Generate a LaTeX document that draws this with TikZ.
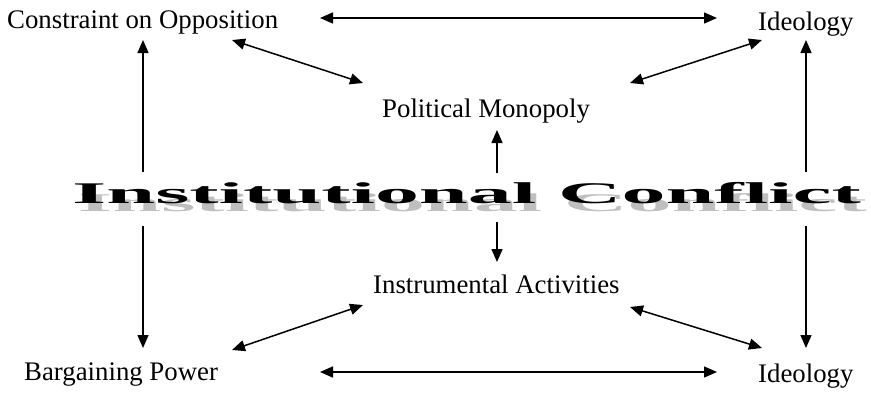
\documentclass[tikz,border=0pt]{standalone}
\usepackage{fontspec}
\setmainfont{Liberation Serif}
\usetikzlibrary{arrows.meta}
\tikzset{
  lbl/.style={anchor=base west, inner sep=0pt, font=\fontsize{26.8}{30}\selectfont},
  conn/.style={line width=1.5pt, -{Triangle[length=13pt,width=11pt]}},
  biconn/.style={line width=1.5pt, {Triangle[length=13pt,width=11pt]}-{Triangle[length=13pt,width=11pt]}},
  titletxt/.style={anchor=base west, inner sep=0pt}
}
\newcommand{\titlefont}{\fontsize{30}{30}\selectfont\bfseries}
\begin{document}
\begin{tikzpicture}[x=1pt,y=-1pt]
\useasboundingbox (0,0) rectangle (871,392);
% texts
\node[lbl] (co) at (7,28) {Constraint on Opposition};
\node[lbl] (idt) at (758,30) {Ideology};
\node[lbl] (pm) at (382,117) {Political Monopoly};
\node[lbl] (ia) at (373,293) {Instrumental Activities};
\node[lbl] (bp) at (24,380) {Bargaining Power};
\node[lbl] (idb) at (758,382) {Ideology};
% title with shadow
\node[titletxt, text=black!25] (shadow) at (78,211) {\scalebox{2.93}[0.85]{\titlefont Institutional Conflict}};
\node[titletxt] (title) at (72,203) {\scalebox{2.93}[1]{\titlefont Institutional Conflict}};
% coordinates
\coordinate (th1) at (320,18);  \coordinate (th2) at (717,18);
\coordinate (bh1) at (320,372); \coordinate (bh2) at (717,372);
\coordinate (tl1) at (232,40);  \coordinate (tl2) at (363,83);
\coordinate (tr1) at (762,40);  \coordinate (tr2) at (630,83);
\coordinate (bl1) at (232,350); \coordinate (bl2) at (363,305);
\coordinate (br1) at (630,307); \coordinate (br2) at (762,348);
\coordinate (lu1) at (143,172); \coordinate (lu2) at (143,40);
\coordinate (ld1) at (143,226); \coordinate (ld2) at (143,348);
\coordinate (ru1) at (806,172); \coordinate (ru2) at (806,40);
\coordinate (rd1) at (806,226); \coordinate (rd2) at (806,348);
\coordinate (cu1) at (497,173); \coordinate (cu2) at (497,130);
\coordinate (cd1) at (497,222); \coordinate (cd2) at (497,262);
% connectors
\draw[biconn] (th1) -- (th2);
\draw[biconn] (bh1) -- (bh2);
\draw[biconn] (tl1) -- (tl2);
\draw[biconn] (tr1) -- (tr2);
\draw[biconn] (bl1) -- (bl2);
\draw[biconn] (br1) -- (br2);
\draw[conn] (lu1) -- (lu2);
\draw[conn] (ld1) -- (ld2);
\draw[conn] (ru1) -- (ru2);
\draw[conn] (rd1) -- (rd2);
\draw[conn] (cu1) -- (cu2);
\draw[conn] (cd1) -- (cd2);
\end{tikzpicture}
\end{document}
